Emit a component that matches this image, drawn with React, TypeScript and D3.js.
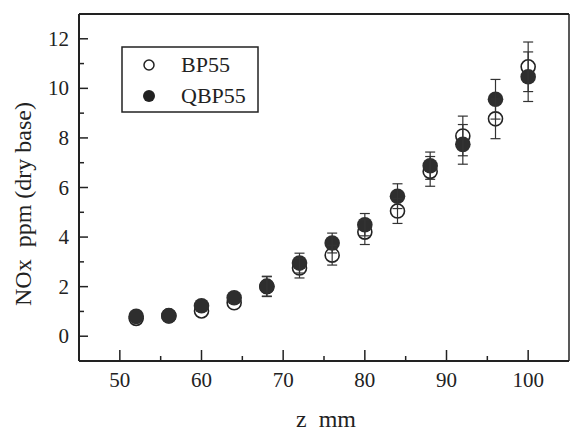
import React from 'react';
import * as d3 from 'd3';

// distance z (mm) along the burner
const zValues = [52, 56, 60, 64, 68, 72, 76, 80, 84, 88, 92, 96, 100];
// NOx, ppm dry base
const bp55 = [0.72, 0.82, 1.02, 1.35, 2.0, 2.75, 3.27, 4.2, 5.05, 6.65, 8.08, 8.77, 10.87];
const bp55Err = [0.1, 0.1, 0.15, 0.2, 0.4, 0.4, 0.4, 0.5, 0.5, 0.6, 0.8, 0.8, 1.0];
const qbp55 = [0.8, 0.83, 1.23, 1.55, 2.02, 2.95, 3.76, 4.5, 5.65, 6.88, 7.74, 9.56, 10.47];
const qbp55Err = [0.1, 0.1, 0.15, 0.2, 0.4, 0.4, 0.4, 0.45, 0.5, 0.55, 0.8, 0.8, 1.0];

const xTicks = [50, 60, 70, 80, 90, 100];
const yTicks = [0, 2, 4, 6, 8, 10, 12];

const left = 79, right = 569, top = 14, bottom = 361;
const ink = '#222';

const x = d3.scaleLinear().domain([45, 105]).range([left, right]);
const y = d3.scaleLinear().domain([-1, 13]).range([bottom, top]);

const serif = (size: number): React.CSSProperties => ({
  fontFamily: '"Liberation Serif"',
  fontSize: size,
  whiteSpace: 'pre',
});

function ErrorBars({ vals, errs }: { vals: number[]; errs: number[] }) {
  return (
    <g stroke="#333" strokeWidth={1.2}>
      {zValues.map((z, i) => {
        if (errs[i] < 0.3) return null;
        const cx = x(z), y1 = y(vals[i] + errs[i]), y0 = y(vals[i] - errs[i]);
        return (
          <g key={z}>
            <line x1={cx} x2={cx} y1={y1} y2={y0} />
            <line x1={cx - 5} x2={cx + 5} y1={y1} y2={y1} />
            <line x1={cx - 5} x2={cx + 5} y1={y0} y2={y0} />
          </g>
        );
      })}
    </g>
  );
}

function App() {
  const xMinor = d3.range(50, 105, 5);
  const yMinor = d3.range(0, 13, 1);
  return (
    <svg width={571} height={432} style={{ position: 'absolute', left: 0, top: 0, background: '#fff' }}>
      {/* frame */}
      <line x1={left} x2={right} y1={top} y2={top} stroke={ink} strokeWidth={2} />
      <line x1={right} x2={right} y1={top} y2={bottom} stroke={ink} strokeWidth={1.5} />
      <line x1={left} x2={right} y1={bottom} y2={bottom} stroke={ink} strokeWidth={2} />
      <line x1={left} x2={left} y1={top} y2={bottom} stroke={ink} strokeWidth={2} />

      {/* inward ticks */}
      {xMinor.map(v => (
        <line key={'xt' + v} x1={x(v)} x2={x(v)} y1={bottom} y2={bottom - (v % 10 === 0 ? 11 : 5)}
          stroke={ink} strokeWidth={1.5} />
      ))}
      {yMinor.map(v => (
        <line key={'yt' + v} x1={left} x2={left + (v % 2 === 0 ? 9 : 5)} y1={y(v)} y2={y(v)}
          stroke={ink} strokeWidth={1.5} />
      ))}

      {/* tick labels */}
      {xTicks.map(v => (
        <text key={'xl' + v} x={x(v)} y={387} textAnchor="middle" fill={ink} style={serif(21)}>{v}</text>
      ))}
      {yTicks.map(v => (
        <text key={'yl' + v} x={69} y={y(v) + 7} textAnchor="end" fill={ink} style={serif(21)}>{v}</text>
      ))}

      {/* axis titles */}
      <text x={326} y={427} textAnchor="middle" fill={ink} style={serif(24)}>{'z  mm'}</text>
      <text transform="translate(31,204) rotate(-90)" textAnchor="middle" fill={ink} style={serif(24)}>
        {'NOx  ppm (dry base)'}
      </text>

      {/* markers */}
      <g>
        {zValues.map((z, i) => (
          <circle key={'b' + z} cx={x(z)} cy={y(bp55[i])} r={7} fill="#fff" stroke={ink} strokeWidth={1.6} />
        ))}
      </g>
      <g>
        {zValues.map((z, i) => (
          <circle key={'q' + z} cx={x(z)} cy={y(qbp55[i])} r={7.8} fill="#2e2e2e" />
        ))}
      </g>
      <ErrorBars vals={bp55} errs={bp55Err} />
      <ErrorBars vals={qbp55} errs={qbp55Err} />

      {/* legend */}
      <g>
        <rect x={122} y={47} width={136} height={65} fill="#fff" stroke={ink} strokeWidth={1.5} />
        <circle cx={149} cy={65} r={5} fill="#fff" stroke={ink} strokeWidth={1.5} />
        <circle cx={149} cy={96} r={6} fill="#222" />
        <text x={181} y={72} fill={ink} style={serif(22)}>BP55</text>
        <text x={181} y={103} fill={ink} style={serif(22)}>QBP55</text>
      </g>
    </svg>
  );
}

export default App;
